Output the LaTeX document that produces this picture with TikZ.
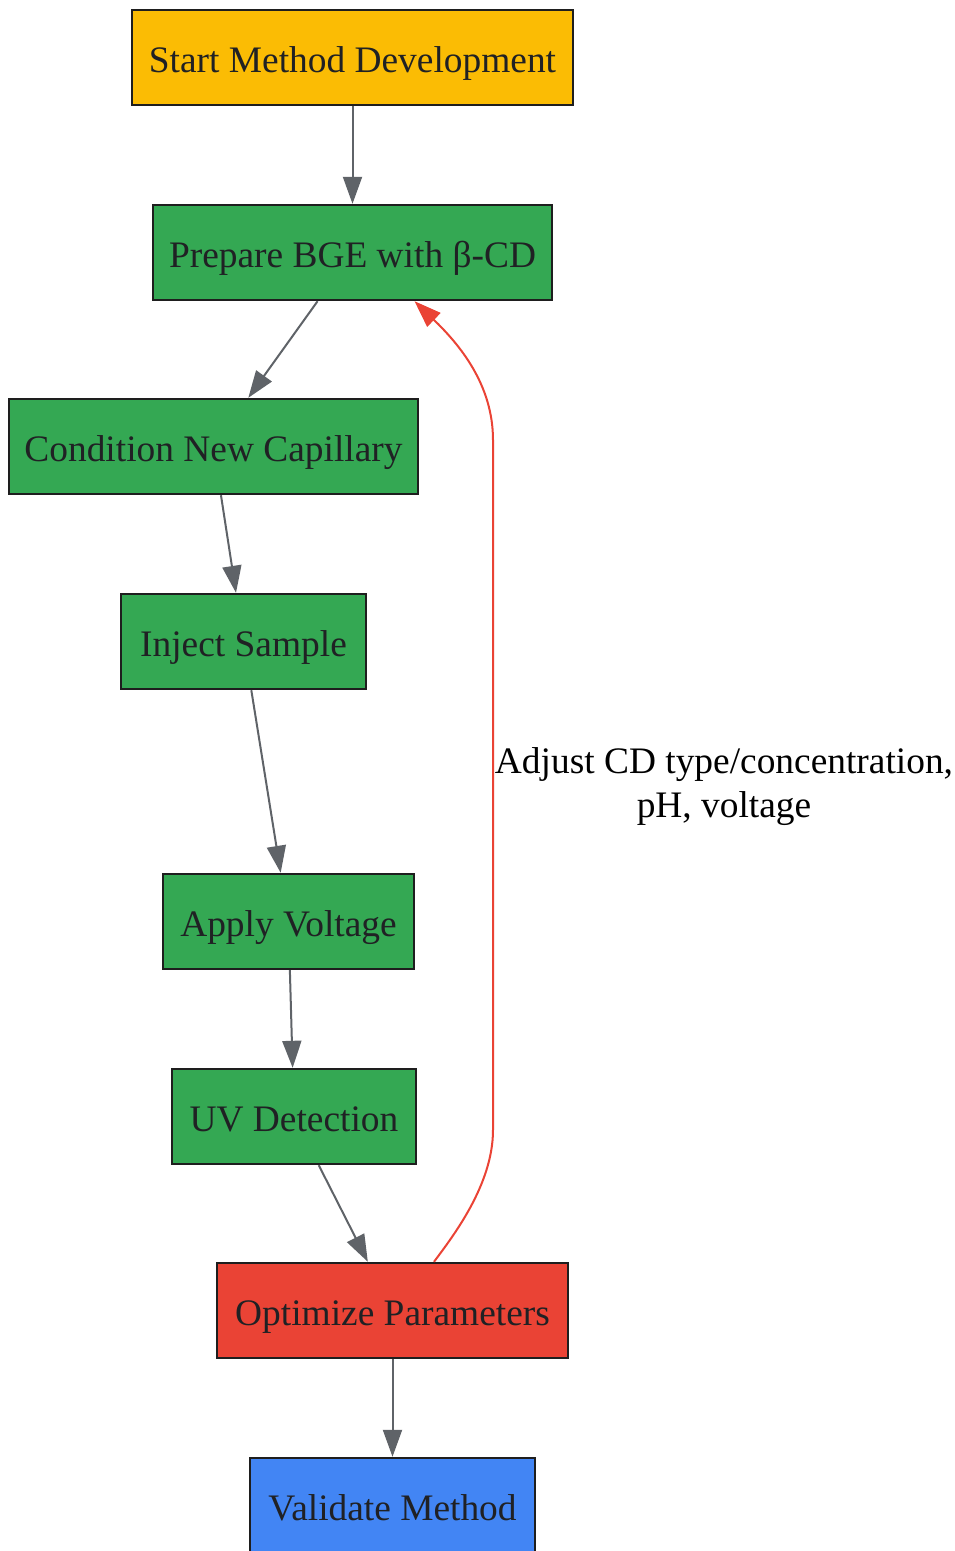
\documentclass[tikz,border=0pt]{standalone}
\usepackage{fontspec}
\setmainfont{Liberation Serif}
\usetikzlibrary{arrows.meta,calc}
\definecolor{gyellow}{HTML}{FBBC04}
\definecolor{ggreen}{HTML}{34A853}
\definecolor{gred}{HTML}{EA4335}
\definecolor{gblue}{HTML}{4285F4}
\definecolor{gedge}{HTML}{5F6368}
\definecolor{gtext}{HTML}{202124}
\definecolor{gborder}{HTML}{1E1E1E}
\tikzset{
  box/.style={draw=gborder, line width=2.4pt, rectangle, inner sep=0pt,
    minimum height=95pt, text height=33pt, text depth=4pt, text=gtext,
    font=\fontsize{37.4}{44}\selectfont},
  flow/.style={draw=gedge, line width=2pt, -{Triangle[length=27pt,width=19pt]}},
  back/.style={draw=gred, line width=2pt, -{Triangle[length=27pt,width=19pt]}},
  lbl/.style={align=center, text=black, font=\fontsize{37.4}{44}\selectfont, inner sep=0pt}
}
\begin{document}
\begin{tikzpicture}[x=1pt,y=-1pt]
\useasboundingbox (0,0) rectangle (954,1551);
\node[box, fill=gyellow, minimum width=441pt] (start) at (352.5,57.5) {Start Method Development};
\node[box, fill=ggreen, minimum width=399pt] (prep) at (352.5,252.5) {Prepare BGE with β-CD};
\node[box, fill=ggreen, minimum width=409pt] (cond) at (213.5,446.5) {Condition New Capillary};
\node[box, fill=ggreen, minimum width=245pt] (inj) at (243.5,641.5) {Inject Sample};
\node[box, fill=ggreen, minimum width=251pt] (volt) at (288.5,921.5) {Apply Voltage};
\node[box, fill=ggreen, minimum width=244pt] (uv) at (294,1116.5) {UV Detection};
\node[box, fill=gred, minimum width=351pt] (opt) at (392.5,1310.5) {Optimize Parameters};
\node[box, fill=gblue, minimum width=285pt] (val) at (392.5,1505.5) {Validate Method};

\draw[flow] (start) -- (prep);
\draw[flow] (prep) -- (cond);
\draw[flow] (cond) -- (inj);
\draw[flow] (inj) -- (volt);
\draw[flow] (volt) -- (uv);
\draw[flow] (uv) -- (opt);
\draw[flow] (opt) -- (val);

\coordinate (bl) at (493,1130);
\coordinate (tl) at (493,440);
\draw[back] ($(opt.north)+(41.5,0)$) .. controls ($(opt.north)+(60,-25)$) and (493,1185) .. (bl)
  -- (tl) .. controls (493,385) and (460,345) .. ($(prep.south)+(62,0)$);
\node[lbl] (adj) at (724,787) {Adjust CD type/concentration,\\pH, voltage};
\end{tikzpicture}
\end{document}
